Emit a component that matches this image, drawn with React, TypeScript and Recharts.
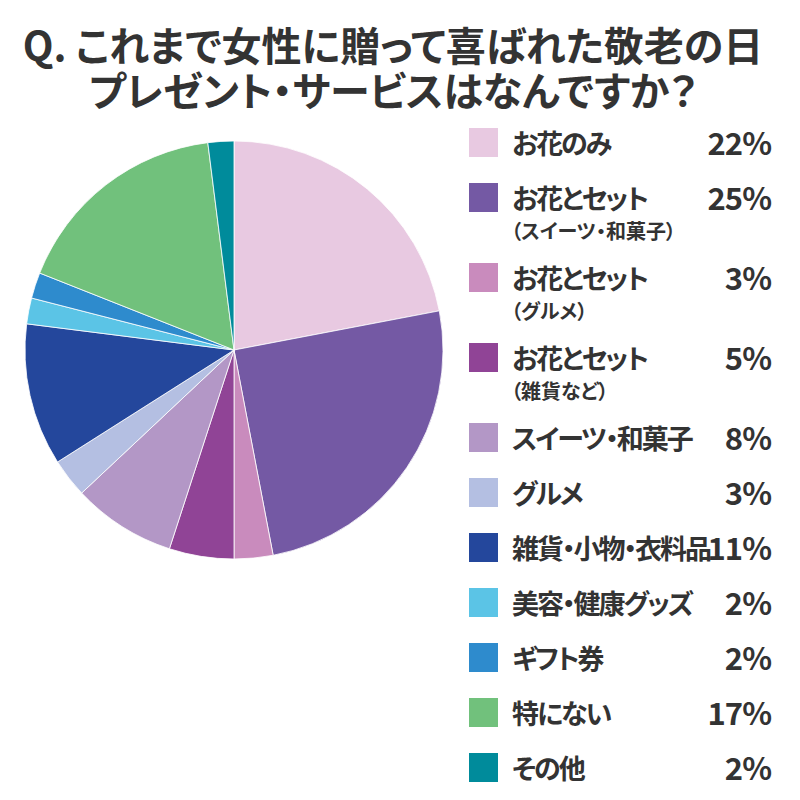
import { PieChart, Pie, Cell } from "recharts"

const categories = [
  "お花のみ",
  "お花とセット",
  "お花とセット",
  "お花とセット",
  "スイーツ・和菓子",
  "グルメ",
  "雑貨・小物・衣料品",
  "美容・健康グッズ",
  "ギフト券",
  "特にない",
  "その他",
]
const subLabels = ["", "（スイーツ・和菓子）", "（グルメ）", "（雑貨など）", "", "", "", "", "", "", ""]
const values = [22, 25, 3, 5, 8, 3, 11, 2, 2, 17, 2]
const colors = [
  "#e8c9e1",
  "#7459a4",
  "#c98bbd",
  "#904496",
  "#b397c6",
  "#b4bfe2",
  "#24479c",
  "#5bc4e6",
  "#2e8bcd",
  "#71c17c",
  "#008b9b",
]
const titleLines = ["Q. これまで女性に贈って喜ばれた敬老の日", "プレゼント・サービスはなんですか？"]

const data = categories.map((name, i) => ({ name, sub: subLabels[i], value: values[i] }))

const FONT = '"Noto Sans CJK JP", "Noto Sans", sans-serif'
const TEXT = "#333333"

function LegendList() {
  return (
    <div style={{ position: "absolute", left: 469, top: 128, width: 302 }}>
      {data.map((d, i) => (
        <div key={i} style={{ position: "relative", height: d.sub ? 80 : 55 }}>
          <div
            style={{ position: "absolute", left: 0, top: 0, width: 29, height: 29, background: colors[i] }}
          />
          <div
            style={{
              position: "absolute",
              left: 43,
              top: -2,
              fontSize: 27,
              lineHeight: "33px",
              fontWeight: 700,
              letterSpacing: -2,
              whiteSpace: "nowrap",
            }}
          >
            {d.name}
          </div>
          {d.sub && (
            <div
              style={{
                position: "absolute",
                left: 42,
                top: 36,
                fontSize: 20,
                lineHeight: "24px",
                fontWeight: 700,
                whiteSpace: "nowrap",
              }}
            >
              {d.sub}
            </div>
          )}
          <div
            style={{
              position: "absolute",
              right: 0,
              top: -4,
              fontSize: 31,
              lineHeight: "36px",
              fontWeight: 700,
              letterSpacing: -1,
            }}
          >
            {d.value}%
          </div>
        </div>
      ))}
    </div>
  )
}

export default function App() {
  return (
    <div
      style={{
        position: "absolute",
        left: 0,
        top: 0,
        width: 800,
        height: 800,
        background: "#fff",
        fontFamily: FONT,
        fontFeatureSettings: '"palt"',
        color: TEXT,
      }}
    >
      <div
        style={{
          position: "absolute",
          left: 0,
          top: 22,
          width: 786,
          textAlign: "center",
          fontSize: 40,
          lineHeight: "45px",
          fontWeight: 700,
        }}
      >
        {titleLines.map((t, i) => (
          <div key={i}>{t}</div>
        ))}
      </div>
      <div style={{ position: "absolute", left: 0, top: 0 }}>
        <PieChart width={460} height={580} margin={{ top: 0, right: 0, bottom: 0, left: 0 }}>
          <Pie
            data={data}
            dataKey="value"
            nameKey="name"
            cx={234}
            cy={350}
            outerRadius={209}
            startAngle={90}
            endAngle={-270}
            stroke="#ffffff"
            strokeWidth={0.8}
            isAnimationActive={false}
          >
            {data.map((_, i) => (
              <Cell key={i} fill={colors[i]} />
            ))}
          </Pie>
        </PieChart>
      </div>
      <LegendList />
    </div>
  )
}
